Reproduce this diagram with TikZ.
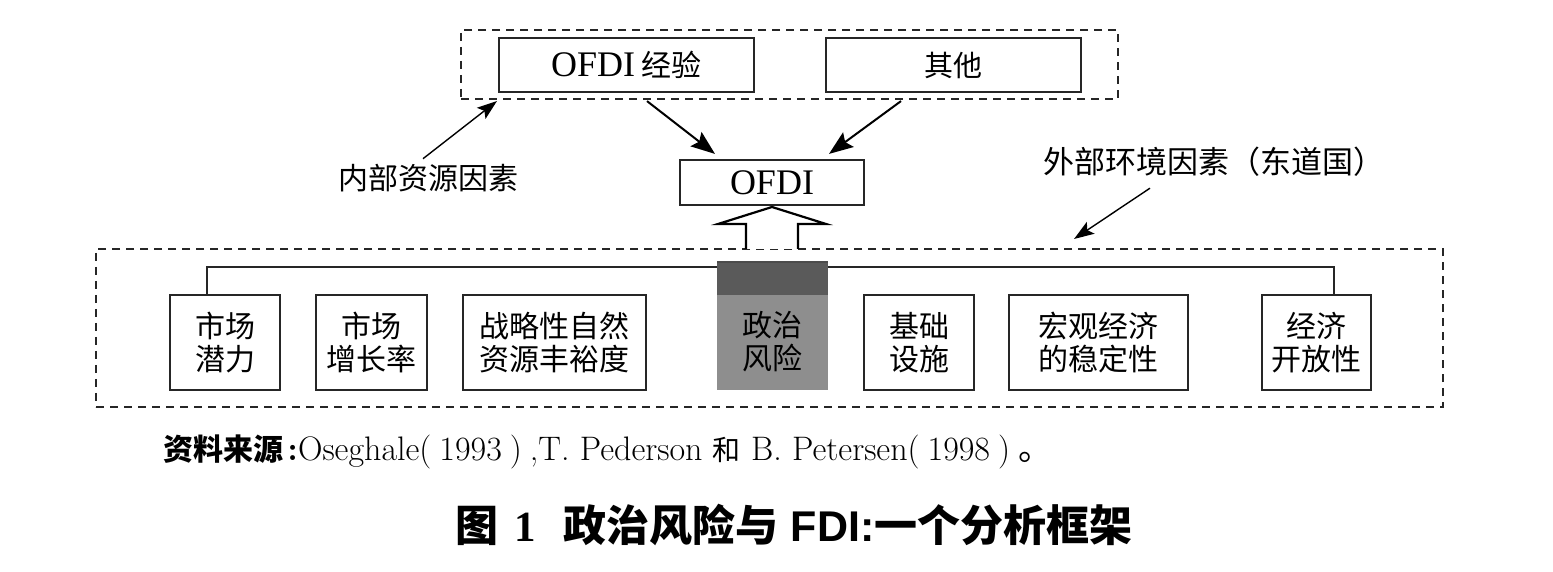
\documentclass[tikz,border=0pt]{standalone}
\usepackage{fontspec}
\newfontfamily\tnr{Liberation Serif}
\newfontfamily\cjk{Noto Sans CJK SC}
\newfontfamily\lsans{Liberation Sans}
\usetikzlibrary{arrows.meta}
\definecolor{riskgray}{HTML}{8E8E8E}
\definecolor{riskdark}{HTML}{5A5A5A}
\begin{document}
\begin{tikzpicture}[x=0.5pt,y=-0.5pt,
  dashbox/.style={draw=black!85, dash pattern=on 4pt off 3pt, line width=1pt, inner sep=0pt},
  fbox/.style={draw=black!85, line width=1.1pt, inner sep=0pt, align=center, font=\cjk\fontsize{15}{16.5}\selectfont},
  arr/.style={line width=1pt, -{Stealth[length=12pt,width=9pt,inset=2pt]}},
  thinarr/.style={line width=0.7pt, -{Stealth[length=10pt,width=7pt,inset=2pt]}},
  lab/.style={font=\cjk\fontsize{15}{17}\selectfont, inner sep=1pt}]
\useasboundingbox (0,0) rectangle (1553,572);
\fill[white] (0,0) rectangle (1553,572);

% top group
\node[dashbox, minimum width=328.5pt, minimum height=34.5pt] (top) at (789.5,64.5) {};
\node[fbox, minimum width=127.5pt, minimum height=27pt] (exp) at (626.5,65) {{\fontsize{18}{20}\tnr OFDI} 经验};
\node[fbox, minimum width=127.5pt, minimum height=27pt, font=\cjk\fontsize{14.5}{16.5}\selectfont] (oth) at (953.5,65) {其他};
\node[fbox, minimum width=92pt, minimum height=22.5pt, font=\tnr\fontsize{18}{20}\selectfont] (ofdi) at (772,182.5) {OFDI};

\draw[arr] ([xshift=10.25pt,yshift=-4pt]exp.south) -- ([xshift=-28.5pt,yshift=2.5pt]ofdi.north);
\draw[arr] ([xshift=-26.25pt,yshift=-4pt]oth.south) -- ([xshift=28.5pt,yshift=2.5pt]ofdi.north);

% bottom group
\node[dashbox, minimum width=673.5pt, minimum height=79pt] (bot) at (769.5,328) {};
\draw[line width=1.1pt, fill=white] (746,249) -- (746,224) -- (718,224) -- (772,207) -- (826,224) -- (798,224) -- (798,249);

\node[fbox, minimum width=55pt, minimum height=47.5pt] (b1) at (225,342.5) {市场\\潜力};
\node[fbox, minimum width=55.5pt, minimum height=47.5pt] (b2) at (371.5,342.5) {市场\\增长率};
\node[fbox, minimum width=91.5pt, minimum height=47.5pt] (b3) at (554.5,342.5) {战略性自然\\资源丰裕度};
\node[fbox, minimum width=55pt, minimum height=47.5pt] (b5) at (919,342.5) {基础\\设施};
\node[fbox, minimum width=89.5pt, minimum height=47.5pt] (b6) at (1098.5,342.5) {宏观经济\\的稳定性};
\node[fbox, minimum width=54.5pt, minimum height=47.5pt] (b7) at (1316.5,342.5) {经济\\开放性};

\draw[line width=1pt, black!85] ([xshift=-9pt]b1.north) -- ++(0,-27) -| ([xshift=8.75pt]b7.north);

\node[fbox, draw=none, outer sep=0pt, fill=riskgray, minimum width=55.5pt, minimum height=48pt] (risk) at (772.5,342) {政治\\风险};
\fill[riskdark] ([yshift=-0.3pt]risk.north west) rectangle ([yshift=16pt]risk.north east);
\draw[line width=1.2pt, black!70] ([yshift=16pt]risk.north west) -- ([yshift=16pt]risk.north east);

% labels
\node[lab] (inner) at (428,178) {内部资源因素};
\draw[thinarr] ([xshift=-2.5pt,yshift=1.5pt]inner.north) -- ([xshift=18.5pt,yshift=-0.5pt]top.south west);
\node[lab, font=\cjk\fontsize{15.5}{17}\selectfont] (outer) at (1213.5,162) {外部环境因素（东道国）};
\draw[thinarr] ([xshift=-31.75pt,yshift=-4.5pt]outer.south) -- ([xshift=-185pt,yshift=4.5pt]bot.north east);

% source and title
\node[anchor=west, inner sep=0pt, font=\fontsize{17}{19}\selectfont] (src) at (163,452) {{\cjk\bfseries\fontsize{15}{18}\selectfont 资料来源}\hspace{2pt}\textbf{:}Oseghale(\hspace{4pt}1993\hspace{4pt})\hspace{4pt},T. Pederson {\cjk\fontsize{14}{18}\selectfont 和} B. Petersen(\hspace{4pt}1998\hspace{4pt})\hspace{4pt}{\cjk 。}};
\node[anchor=west, inner sep=0pt, font=\fontsize{21.5}{24}\selectfont] (title) at (455,525) {{\cjk\bfseries 图}\hspace{8pt}{\tnr\bfseries 1}\hspace{14pt}{\cjk\bfseries 政治风险与}\hspace{6pt}{\lsans\bfseries FDI:}{\cjk\bfseries 一个分析框架}};
\end{tikzpicture}
\end{document}
